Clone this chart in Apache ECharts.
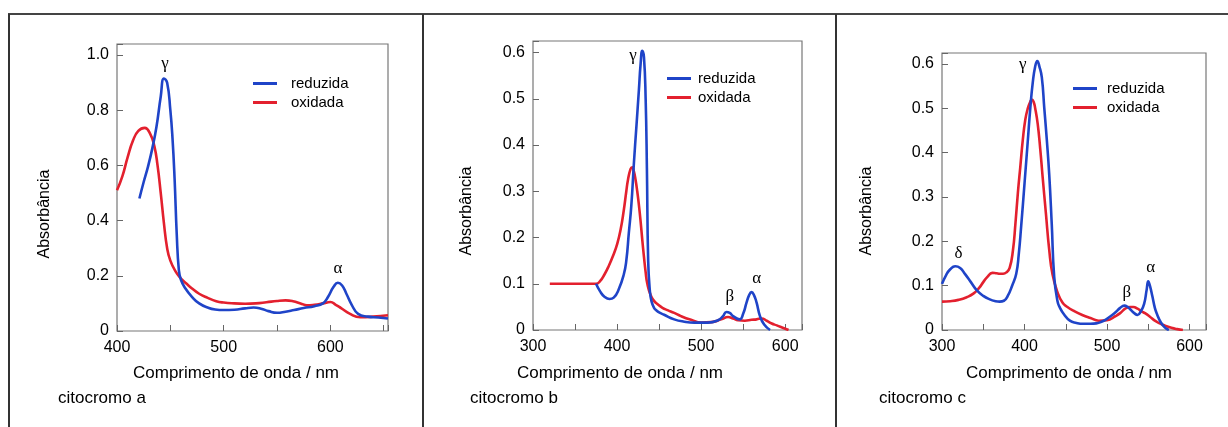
<!DOCTYPE html>
<html>
<head>
<meta charset="utf-8">
<script src="https://cdn.jsdelivr.net/npm/echarts@6/dist/echarts.min.js"></script>
<style>
  html,body{margin:0;padding:0;background:#fff;}
  #main{width:1228px;height:427px;}
</style>
</head>
<body>
<div id="main"></div>
<script>
// citocromo a
var aRedNm  = [400,405,410,415,420,426,431,435,438,441,444,447,450,455,460,465,470,477,485,493,500,510,520,530,540,550,558,565,572,578,585,593,600,605,610,618,628,640,654]
var aRedAbs = [0.51,0.56,0.63,0.69,0.725,0.736,0.715,0.67,0.6,0.5,0.39,0.3,0.255,0.215,0.19,0.172,0.155,0.135,0.12,0.108,0.103,0.1,0.099,0.1,0.104,0.109,0.111,0.108,0.1,0.093,0.095,0.1,0.105,0.095,0.083,0.063,0.05,0.052,0.057]
var aBlueNm  = [421,425,429,433,437,441,444,447,450,452,454,456,458,460,464,470,477,485,492,500,510,520,528,535,542,550,558,566,575,585,593,598,603,607,611,615,620,626,635,645,654]
var aBlueAbs = [0.48,0.54,0.595,0.66,0.74,0.85,0.915,0.9,0.8,0.7,0.55,0.35,0.22,0.185,0.155,0.125,0.1,0.085,0.078,0.076,0.077,0.082,0.085,0.081,0.072,0.066,0.07,0.076,0.083,0.09,0.1,0.125,0.16,0.175,0.165,0.135,0.095,0.062,0.052,0.049,0.045]
var aMarks = [['γ',445,0.97],['α',607,0.226]]

// citocromo b
var bRedNm  = [320,340,360,375,380,385,390,396,400,404,408,411,413,416,418,420,422,424,426,428,430,432,434,436,440,444,448,454,460,468,476,488,500,512,524,532,538,544,552,560,566,572,578,584,590,597,604]
var bRedAbs = [0.1,0.1,0.1,0.1,0.106,0.12,0.138,0.164,0.185,0.215,0.259,0.3,0.325,0.348,0.352,0.343,0.325,0.3,0.27,0.235,0.195,0.158,0.125,0.1,0.075,0.063,0.056,0.048,0.043,0.037,0.03,0.022,0.016,0.017,0.023,0.028,0.025,0.021,0.02,0.022,0.023,0.025,0.02,0.014,0.01,0.005,0]
var bBlueNm  = [375,380,385,391,396,402,408,411,414,417,420,423,426,428,430,432,434,435.5,437,439,441,444,447,450,456,468,480,492,508,520,526,530,534,538,546,550,554,557,560,563,566,570,575,582]
var bBlueAbs = [0.1,0.083,0.072,0.067,0.07,0.088,0.12,0.15,0.21,0.27,0.36,0.44,0.52,0.575,0.604,0.59,0.5,0.35,0.15,0.085,0.062,0.048,0.042,0.038,0.033,0.023,0.018,0.016,0.016,0.021,0.03,0.039,0.037,0.03,0.023,0.035,0.059,0.075,0.082,0.075,0.059,0.03,0.012,0]
var bMarks = [['γ',419,0.594],['β',534,0.072],['α',566,0.112]]

// citocromo c
var cRedNm  = [300,310,320,330,338,345,350,355,361,366,370,374,378,382,386,389,392,395,398,401,404,407,409,411,413,416,419,422,426,430,434,440,446,452,460,470,480,490,500,510,516,522,528,532,537,542,546,552,558,564,570,578,585,592]
var cRedAbs = [0.064,0.065,0.068,0.074,0.082,0.095,0.108,0.12,0.129,0.128,0.127,0.127,0.13,0.14,0.18,0.24,0.31,0.37,0.43,0.475,0.5,0.515,0.52,0.515,0.5,0.465,0.41,0.345,0.262,0.18,0.125,0.085,0.062,0.052,0.043,0.034,0.027,0.021,0.022,0.031,0.038,0.048,0.052,0.052,0.048,0.042,0.038,0.03,0.021,0.015,0.01,0.005,0.002,0]
var cBlueNm  = [300,305,310,316,322,328,335,342,350,358,365,370,375,380,385,390,393,396,400,404,407,410,413,415.5,418,421,424,427,430,433,436,440,443,448,455,463,471,480,487,494,499,505,511,516,521,525,529,533,537,541,545,548,550,552,555,558,561,565,570,575]
var cBlueAbs = [0.104,0.124,0.137,0.144,0.14,0.126,0.108,0.09,0.077,0.069,0.065,0.064,0.066,0.078,0.1,0.127,0.17,0.235,0.33,0.427,0.5,0.558,0.595,0.607,0.595,0.57,0.5,0.43,0.35,0.24,0.12,0.065,0.05,0.035,0.021,0.016,0.014,0.014,0.015,0.019,0.024,0.032,0.041,0.05,0.055,0.052,0.045,0.038,0.034,0.042,0.059,0.09,0.11,0.1,0.076,0.05,0.034,0.018,0.006,0]
var cMarks = [['δ',320,0.173],['γ',398,0.6],['β',524,0.084],['α',553,0.142]]

var BLUE='#1f44c8', RED='#e3202e', TXT='#000'
var FONT='Liberation Sans, Arial, sans-serif'

function zip(xs,ys){ return xs.map(function(x,i){ return [x,ys[i]] }) }

var panels = [
  {blue:zip(aBlueNm,aBlueAbs), red:zip(aRedNm,aRedAbs), marks:aMarks, grid:{left:117,top:44,width:271,height:287}, xmin:400,xmax:654, ymax:1.04, yint:0.2, legend:{left:253,top:76,gap:9}},
  {blue:zip(bBlueNm,bBlueAbs), red:zip(bRedNm,bRedAbs), marks:bMarks, grid:{left:533,top:41,width:269,height:289}, xmin:300,xmax:620, ymax:0.625, yint:0.1, legend:{left:667,top:71,gap:2}},
  {blue:zip(cBlueNm,cBlueAbs), red:zip(cRedNm,cRedAbs), marks:cMarks, grid:{left:942,top:53,width:264,height:277}, xmin:300,xmax:620, ymax:0.625, yint:0.1, legend:{left:1073,top:81,gap:5}}
]

var option = {
  animation:false,
  backgroundColor:'#fff',
  textStyle:{fontFamily:FONT},
  grid:[], xAxis:[], yAxis:[], legend:[], series:[]
}

panels.forEach(function(p,i){
  option.grid.push({left:p.grid.left, top:p.grid.top, width:p.grid.width, height:p.grid.height,
    show:true, borderColor:'#777', borderWidth:1.2, containLabel:false})
  option.xAxis.push({type:'value', gridIndex:i, min:p.xmin, max:p.xmax, interval:50,
    axisLine:{show:false}, splitLine:{show:false},
    axisTick:{show:true, inside:true, length:6, lineStyle:{color:'#666'}},
    axisLabel:{fontSize:16, color:TXT, margin:9, fontFamily:FONT,
      formatter:function(v){ return v%100===0 ? String(v) : '' }}
  })
  option.yAxis.push({type:'value', gridIndex:i, min:0, max:p.ymax, interval:p.yint,
    axisLine:{show:false}, splitLine:{show:false},
    axisTick:{show:true, inside:true, length:6, lineStyle:{color:'#666'}},
    axisLabel:{fontSize:16, color:TXT, margin:8, fontFamily:FONT,
      formatter:function(v){
        if (Math.abs(v*10-Math.round(v*10))>1e-6) return ''
        return v===0 ? '0' : v.toFixed(1)
      }}
  })
  option.legend.push({orient:'vertical', left:p.legend.left, top:p.legend.top, padding:0,
    icon:'rect', itemWidth:24, itemHeight:3, itemGap:4,
    data:[{name:'reduzida'},{name:'oxidada'}],
    textStyle:{fontSize:15, lineHeight:15, color:TXT, fontFamily:FONT, padding:[0,0,0,p.legend.gap]}
  })
  option.series.push({name:'reduzida', type:'line', xAxisIndex:i, yAxisIndex:i, data:p.blue,
    symbol:'none', smooth:0.5, lineStyle:{color:BLUE, width:2.6}, itemStyle:{color:BLUE},
    z:3,
    markPoint:{symbol:'circle', symbolSize:1, itemStyle:{color:'rgba(0,0,0,0)'},
      label:{show:true, position:'inside', color:TXT, fontSize:17, fontFamily:'Liberation Serif, serif',
        formatter:function(d){ return d.name }},
      data:p.marks.map(function(m){ return {name:m[0], coord:[m[1],m[2]]} })
    }
  })
  option.series.push({name:'oxidada', type:'line', xAxisIndex:i, yAxisIndex:i, data:p.red,
    symbol:'none', smooth:0.5, lineStyle:{color:RED, width:2.6}, itemStyle:{color:RED}, z:2})
})

function txt(x,y,s){
  return {type:'text', x:x, y:y, style:{text:s, fill:TXT, font:'17px '+FONT, textVerticalAlign:'middle'}}
}
function vtxt(x,y,s){
  return {type:'text', x:x, y:y, rotation:Math.PI/2, style:{text:s, fill:TXT, font:'16px '+FONT, textAlign:'center', textVerticalAlign:'middle'}}
}

option.graphic = [
  {type:'line', shape:{x1:8,y1:14,x2:1228,y2:14}, style:{stroke:'#444', lineWidth:2}},
  {type:'line', shape:{x1:9,y1:14,x2:9,y2:427}, style:{stroke:'#333', lineWidth:2}},
  {type:'line', shape:{x1:423,y1:14,x2:423,y2:427}, style:{stroke:'#333', lineWidth:2}},
  {type:'line', shape:{x1:836,y1:14,x2:836,y2:427}, style:{stroke:'#333', lineWidth:2}},
  txt(133,373,'Comprimento de onda / nm'),
  txt(517,373,'Comprimento de onda / nm'),
  txt(966,373,'Comprimento de onda / nm'),
  txt(58,398,'citocromo a'),
  txt(470,398,'citocromo b'),
  txt(879,398,'citocromo c'),
  vtxt(45,214,'Absorbância'),
  vtxt(467,211,'Absorbância'),
  vtxt(867,211,'Absorbância')
]

var chart = echarts.init(document.getElementById('main'))
chart.setOption(option)
</script>
</body>
</html>
